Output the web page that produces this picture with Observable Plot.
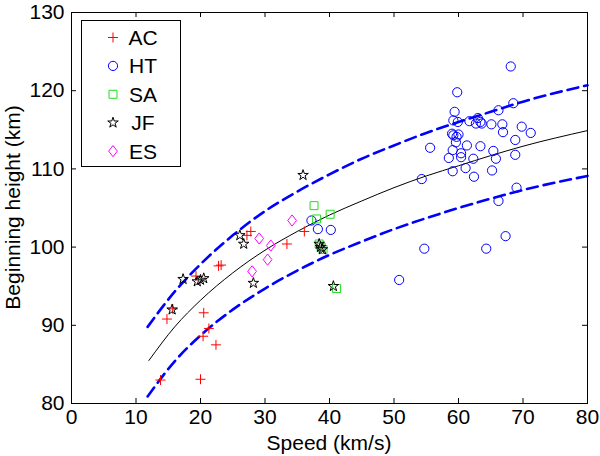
<!DOCTYPE html>
<html>
<head>
<meta charset="utf-8">
<script src="https://cdn.jsdelivr.net/npm/d3@7"></script>
<script src="https://cdn.jsdelivr.net/npm/@observablehq/plot@0.6"></script>
<style>
  body { margin: 0; background: white; }
</style>
</head>
<body>
<div id="chart"></div>
<script>
// speed (km/s), beginning height (km)
const AC = [
  [13.8, 83.0], [14.8, 90.8], [15.7, 92.1], [20.5, 91.6], [21.3, 89.6],
  [20.4, 88.6], [22.4, 87.5], [20.0, 83.1], [22.8, 97.6], [23.2, 97.7],
  [19.3, 96.3], [27.2, 101.5], [27.8, 102.0], [33.4, 100.4], [36.1, 102.0]
];
const HT = [
  [68.1, 123.1], [59.8, 119.8], [59.4, 117.3], [66.2, 117.5], [68.5, 118.4],
  [59.2, 116.2], [59.9, 116.0], [61.7, 116.1], [63.0, 116.5], [62.7, 115.8],
  [63.6, 115.8], [63.4, 116.0], [65.1, 115.7], [66.8, 115.7], [66.9, 114.7],
  [69.8, 115.4], [71.2, 114.6], [59.0, 114.5], [59.2, 114.3], [59.7, 114.1],
  [60.0, 114.4], [59.6, 113.4], [61.3, 113.0], [63.4, 112.9], [68.8, 113.7],
  [65.4, 112.3], [55.6, 112.7], [59.1, 112.4], [60.4, 112.0], [58.5, 111.4],
  [60.4, 111.5], [62.3, 111.3], [65.8, 111.3], [68.8, 111.8], [61.1, 110.1],
  [59.1, 109.7], [65.2, 109.8], [62.4, 109.0], [54.3, 108.7], [69.0, 107.6],
  [66.2, 105.9], [67.3, 101.4], [54.7, 99.8], [64.3, 99.8], [50.8, 95.8],
  [37.2, 103.4], [38.2, 102.3], [40.2, 102.2]
];
const SA = [
  [37.6, 105.3], [38.0, 103.6], [40.1, 104.2], [38.4, 100.4], [38.7, 100.0],
  [39.0, 99.7], [41.1, 94.7]
];
const JF = [
  [35.9, 109.2], [26.1, 101.5], [26.7, 100.4], [28.2, 95.4], [17.3, 95.9],
  [19.5, 95.6], [20.0, 95.8], [20.5, 96.0], [15.6, 92.0], [38.4, 100.4],
  [38.6, 100.0], [38.9, 99.7], [40.6, 95.0]
];
const ES = [
  [34.2, 103.4], [29.1, 101.1], [30.9, 100.2], [30.4, 98.4], [28.0, 96.9]
];

// curves
const fitLine = [
  [12, 85.5], [16, 89.8], [20, 93.2], [25, 96.7], [30, 99.6], [35, 102.0],
  [40, 104.1], [45, 105.9], [50, 107.6], [55, 109.1], [60, 110.4],
  [65, 111.7], [70, 112.9], [80, 114.9]
];
const upperLine = [
  [11.8, 89.8], [16, 94.3], [20, 97.8], [25, 101.5], [30, 104.6], [35, 107.1],
  [40, 109.3], [45, 111.3], [50, 113.0], [55, 114.6], [60, 116.0],
  [65, 117.3], [70, 118.6], [80, 120.7]
];
const lowerLine = [
  [11.8, 80.9], [16, 85.4], [20, 88.7], [25, 92.0], [30, 94.7], [35, 97.0],
  [40, 99.0], [45, 100.7], [50, 102.3], [55, 103.7], [60, 105.0],
  [65, 106.2], [70, 107.3], [80, 109.1]
];

const xTicks = [0, 10, 20, 30, 40, 50, 60, 70, 80];
const yTicks = [80, 90, 100, 110, 120, 130];
const legendNames = ["AC", "HT", "SA", "JF", "ES"];
const xLabel = "Speed (km/s)";
const yLabel = "Beginning height (km)";

const font = "'Liberation Sans', Arial, Helvetica, sans-serif";

// matlab-ish diamond, a bit taller than wide
const diamond = {
  draw(ctx, size) {
    const r = Math.sqrt(size / Math.PI);
    const w = r * 1.25, h = r * 1.6;
    ctx.moveTo(0, -h);
    ctx.lineTo(w, 0);
    ctx.lineTo(0, h);
    ctx.lineTo(-w, 0);
    ctx.closePath();
  }
};

const styles = {
  AC: {symbol: "plus", stroke: "#ff0000", r: 3.3},
  HT: {symbol: "circle", stroke: "#0000ff", r: 4.6},
  SA: {symbol: "square", stroke: "#22dd22", r: 4.5},
  JF: {symbol: "star", stroke: "#000000", r: 3.3},
  ES: {symbol: diamond, stroke: "#ff00ff", r: 3.5}
};
const series = {AC, HT, SA, JF, ES};

const dots = legendNames.map(name => Plot.dot(series[name], {
  x: d => d[0],
  y: d => d[1],
  symbol: styles[name].symbol,
  r: styles[name].r,
  stroke: styles[name].stroke,
  fill: "none",
  strokeWidth: 1
}));

const dashed = {stroke: "#0000ff", strokeWidth: 2.6, strokeDasharray: "11,6", curve: "monotone-x"};

const chart = Plot.plot({
  width: 600,
  height: 456,
  marginLeft: 71,
  marginRight: 13,
  marginTop: 12,
  marginBottom: 53,
  style: {fontFamily: font, fontSize: "21px", color: "black", background: "white"},
  x: {domain: [0, 80]},
  y: {domain: [80, 130]},
  marks: [
    Plot.line(upperLine, {x: d => d[0], y: d => d[1], ...dashed}),
    Plot.line(lowerLine, {x: d => d[0], y: d => d[1], ...dashed}),
    Plot.line(fitLine, {x: d => d[0], y: d => d[1], curve: "monotone-x",
      stroke: "black", strokeWidth: 1}),
    ...dots,
    Plot.frame({stroke: "black", strokeWidth: 1}),
    // inward ticks on all four sides
    Plot.tickX(xTicks, {x: d => d, insetTop: 386, stroke: "black"}),
    Plot.tickX(xTicks, {x: d => d, insetBottom: 386, stroke: "black"}),
    Plot.tickY(yTicks, {y: d => d, insetRight: 511, stroke: "black"}),
    Plot.tickY(yTicks, {y: d => d, insetLeft: 511, stroke: "black"}),
    Plot.axisX(xTicks, {tickSize: 0, tickPadding: 6, label: null, fontSize: 21}),
    Plot.axisY(yTicks, {tickSize: 0, tickPadding: 7, label: null, fontSize: 21})
  ]
});

const svg = d3.select(chart);

// axis titles
svg.append("text")
  .attr("x", 329).attr("y", 450)
  .attr("text-anchor", "middle")
  .attr("font-family", font).attr("font-size", 21)
  .text(xLabel);
svg.append("text")
  .attr("transform", "translate(20,207.5) rotate(-90)")
  .attr("text-anchor", "middle")
  .attr("font-family", font).attr("font-size", 21)
  .text(yLabel);

// legend box, top left inside the plot
const leg = svg.append("g");
leg.append("rect")
  .attr("x", 81.5).attr("y", 20.5).attr("width", 99).attr("height", 146)
  .attr("fill", "white").attr("stroke", "black");

const d3Types = {plus: d3.symbolPlus, circle: d3.symbolCircle, square: d3.symbolSquare, star: d3.symbolStar};
legendNames.forEach((name, i) => {
  const s = styles[name];
  const type = typeof s.symbol === "string" ? d3Types[s.symbol] : s.symbol;
  const cy = 37.5 + i * 28.4;
  leg.append("path")
    .attr("d", d3.symbol(type, Math.PI * s.r * s.r)())
    .attr("transform", `translate(113,${cy})`)
    .attr("fill", "none").attr("stroke", s.stroke).attr("stroke-width", 1);
  leg.append("text")
    .attr("x", 143).attr("y", cy).attr("dy", "0.36em")
    .attr("font-family", font).attr("font-size", 21)
    .text(name);
});

d3.select("#chart").append(() => chart);
</script>
</body>
</html>
